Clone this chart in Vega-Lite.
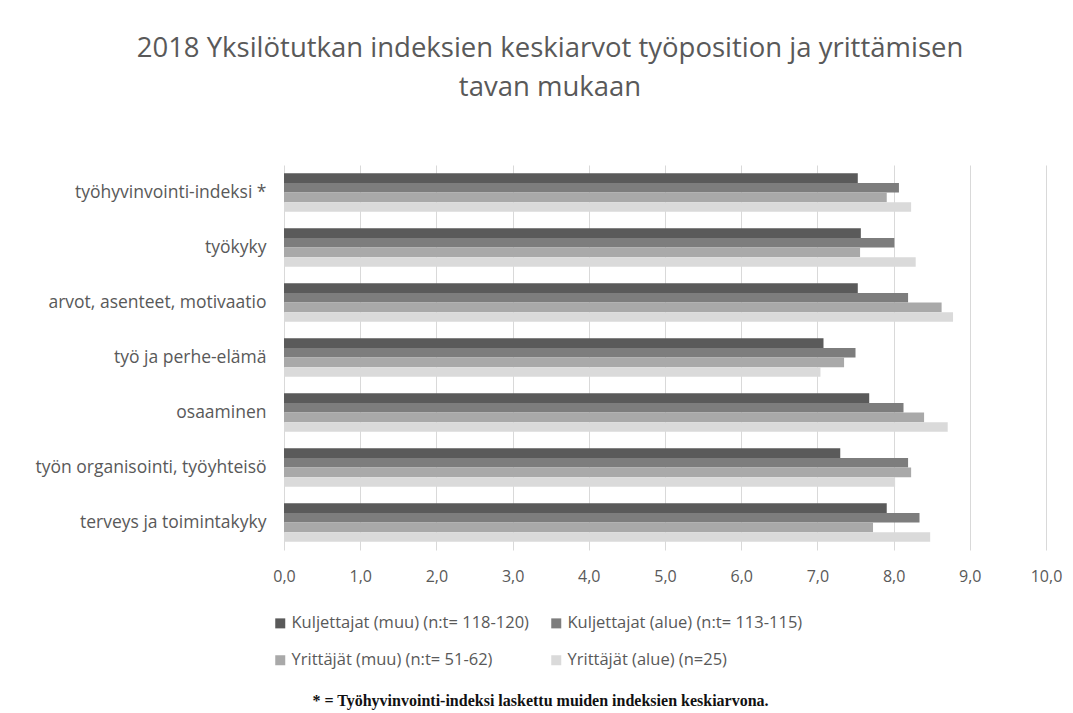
{
  "$schema": "https://vega.github.io/schema/vega-lite/v6.json",
  "autosize": {"type": "none"},
  "width": 762,
  "height": 385,
  "padding": {"left": 284, "top": 165, "right": 27, "bottom": 163},
  "background": "white",
  "title": {
    "text": ["2018 Yksilötutkan indeksien keskiarvot työposition ja yrittämisen", "tavan mukaan"],
    "font": "Open Sans",
    "fontWeight": 400,
    "fontSize": 27.5,
    "lineHeight": 39,
    "color": "#595959",
    "anchor": "middle",
    "dx": -115,
    "offset": 64
  },
  "data": {
    "values": [
      {"indeksi": "työhyvinvointi-indeksi *", "ryhma": "Kuljettajat (muu) (n:t= 118-120)", "arvo": 7.53},
      {"indeksi": "työhyvinvointi-indeksi *", "ryhma": "Kuljettajat (alue) (n:t= 113-115)", "arvo": 8.07},
      {"indeksi": "työhyvinvointi-indeksi *", "ryhma": "Yrittäjät (muu) (n:t= 51-62)", "arvo": 7.91},
      {"indeksi": "työhyvinvointi-indeksi *", "ryhma": "Yrittäjät (alue) (n=25)", "arvo": 8.23},
      {"indeksi": "työkyky", "ryhma": "Kuljettajat (muu) (n:t= 118-120)", "arvo": 7.57},
      {"indeksi": "työkyky", "ryhma": "Kuljettajat (alue) (n:t= 113-115)", "arvo": 8.01},
      {"indeksi": "työkyky", "ryhma": "Yrittäjät (muu) (n:t= 51-62)", "arvo": 7.56},
      {"indeksi": "työkyky", "ryhma": "Yrittäjät (alue) (n=25)", "arvo": 8.29},
      {"indeksi": "arvot, asenteet, motivaatio", "ryhma": "Kuljettajat (muu) (n:t= 118-120)", "arvo": 7.53},
      {"indeksi": "arvot, asenteet, motivaatio", "ryhma": "Kuljettajat (alue) (n:t= 113-115)", "arvo": 8.19},
      {"indeksi": "arvot, asenteet, motivaatio", "ryhma": "Yrittäjät (muu) (n:t= 51-62)", "arvo": 8.63},
      {"indeksi": "arvot, asenteet, motivaatio", "ryhma": "Yrittäjät (alue) (n=25)", "arvo": 8.78},
      {"indeksi": "työ ja perhe-elämä", "ryhma": "Kuljettajat (muu) (n:t= 118-120)", "arvo": 7.08},
      {"indeksi": "työ ja perhe-elämä", "ryhma": "Kuljettajat (alue) (n:t= 113-115)", "arvo": 7.5},
      {"indeksi": "työ ja perhe-elämä", "ryhma": "Yrittäjät (muu) (n:t= 51-62)", "arvo": 7.35},
      {"indeksi": "työ ja perhe-elämä", "ryhma": "Yrittäjät (alue) (n=25)", "arvo": 7.04},
      {"indeksi": "osaaminen", "ryhma": "Kuljettajat (muu) (n:t= 118-120)", "arvo": 7.68},
      {"indeksi": "osaaminen", "ryhma": "Kuljettajat (alue) (n:t= 113-115)", "arvo": 8.13},
      {"indeksi": "osaaminen", "ryhma": "Yrittäjät (muu) (n:t= 51-62)", "arvo": 8.4},
      {"indeksi": "osaaminen", "ryhma": "Yrittäjät (alue) (n=25)", "arvo": 8.71},
      {"indeksi": "työn organisointi, työyhteisö", "ryhma": "Kuljettajat (muu) (n:t= 118-120)", "arvo": 7.3},
      {"indeksi": "työn organisointi, työyhteisö", "ryhma": "Kuljettajat (alue) (n:t= 113-115)", "arvo": 8.19},
      {"indeksi": "työn organisointi, työyhteisö", "ryhma": "Yrittäjät (muu) (n:t= 51-62)", "arvo": 8.23},
      {"indeksi": "työn organisointi, työyhteisö", "ryhma": "Yrittäjät (alue) (n=25)", "arvo": 8.02},
      {"indeksi": "terveys ja toimintakyky", "ryhma": "Kuljettajat (muu) (n:t= 118-120)", "arvo": 7.91},
      {"indeksi": "terveys ja toimintakyky", "ryhma": "Kuljettajat (alue) (n:t= 113-115)", "arvo": 8.34},
      {"indeksi": "terveys ja toimintakyky", "ryhma": "Yrittäjät (muu) (n:t= 51-62)", "arvo": 7.73},
      {"indeksi": "terveys ja toimintakyky", "ryhma": "Yrittäjät (alue) (n=25)", "arvo": 8.48}
    ]
  },
  "mark": {"type": "bar"},
  "encoding": {
    "y": {
      "field": "indeksi",
      "type": "nominal",
      "sort": ["työhyvinvointi-indeksi *", "työkyky", "arvot, asenteet, motivaatio", "työ ja perhe-elämä", "osaaminen", "työn organisointi, työyhteisö", "terveys ja toimintakyky"],
      "scale": {"paddingInner": 0.3, "paddingOuter": 0.15},
      "axis": {
        "title": null,
        "domain": false,
        "ticks": false,
        "labelFont": "Open Sans",
        "labelFontSize": 17.5,
        "labelColor": "#595959",
        "labelPadding": 18,
        "labelLimit": 300
      }
    },
    "yOffset": {
      "field": "ryhma",
      "type": "nominal",
      "sort": ["Kuljettajat (muu) (n:t= 118-120)", "Kuljettajat (alue) (n:t= 113-115)", "Yrittäjät (muu) (n:t= 51-62)", "Yrittäjät (alue) (n=25)"],
      "scale": {"paddingInner": 0, "paddingOuter": 0}
    },
    "x": {
      "field": "arvo",
      "type": "quantitative",
      "scale": {"domain": [0, 10], "nice": false},
      "axis": {
        "values": [0, 1, 2, 3, 4, 5, 6, 7, 8, 9, 10],
        "labelExpr": "replace(format(datum.value, '.1f'), '.', ',')",
        "labelFlush": false,
        "domain": false,
        "ticks": false,
        "grid": true,
        "gridColor": "#d9d9d9",
        "gridWidth": 1,
        "labelFont": "Open Sans",
        "labelFontSize": 16,
        "labelColor": "#595959",
        "labelPadding": 18,
        "title": "* = Työhyvinvointi-indeksi laskettu muiden indeksien keskiarvona.",
        "titleFont": "Liberation Serif",
        "titleFontWeight": "bold",
        "titleFontSize": 16,
        "titleColor": "#111111",
        "titleX": 256,
        "titleY": 150,
        "titleAlign": "center",
        "titleBaseline": "middle"
      }
    },
    "color": {
      "field": "ryhma",
      "type": "nominal",
      "sort": ["Kuljettajat (muu) (n:t= 118-120)", "Kuljettajat (alue) (n:t= 113-115)", "Yrittäjät (muu) (n:t= 51-62)", "Yrittäjät (alue) (n=25)"],
      "scale": {
        "domain": ["Kuljettajat (muu) (n:t= 118-120)", "Kuljettajat (alue) (n:t= 113-115)", "Yrittäjät (muu) (n:t= 51-62)", "Yrittäjät (alue) (n=25)"],
        "range": ["#5a5a5a", "#7d7d7d", "#a9a9a9", "#dadada"]
      },
      "legend": {
        "title": null,
        "orient": "none",
        "legendX": -12,
        "legendY": 450,
        "direction": "horizontal",
        "columns": 2,
        "columnPadding": 19,
        "rowPadding": 20,
        "symbolType": "square",
        "symbolSize": 100,
        "symbolStrokeWidth": 0,
        "labelFont": "Open Sans",
        "labelFontSize": 16.5,
        "labelColor": "#595959",
        "labelLimit": 400,
        "labelOffset": 3
      }
    }
  },
  "config": {
    "view": {"stroke": null}
  }
}
